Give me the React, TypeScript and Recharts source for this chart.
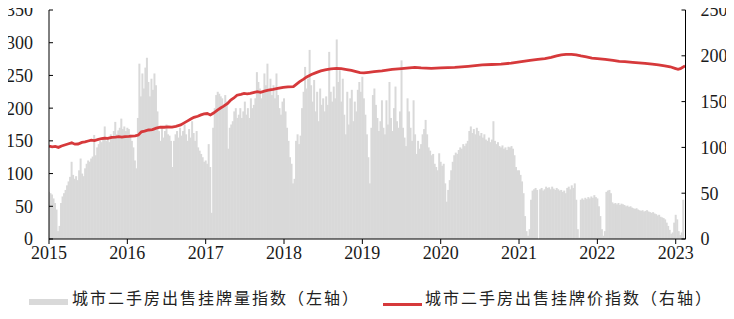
import React from 'react';
import { ComposedChart, Bar, Line, XAxis, YAxis } from 'recharts';

// Weekly listing-volume index (left axis), one array per year
const listing2015 = [72,70,68,62,55,45,12,20,55,65,70,75,82,88,95,118,98,92,96,90,105,123,100,96,108,115,120,118,123,126,159,128,140,145,150,148,152,172,150,155,148,160,156,165,179,160,166,170,184,168,172,165];
const listing2016 = [170,168,160,150,140,120,108,185,268,218,253,230,262,277,240,218,245,228,253,235,195,165,150,172,155,165,175,160,158,150,110,150,160,165,155,170,158,165,175,160,150,168,155,180,162,150,165,140,135,130,125,118];
const listing2017 = [120,115,145,110,40,170,200,220,225,222,218,215,205,220,210,138,170,175,180,195,200,185,190,200,185,195,210,190,200,185,215,200,205,215,255,240,230,215,225,253,235,268,228,245,220,235,215,253,220,200,190,210];
const listing2018 = [215,195,170,150,125,115,85,92,150,160,145,158,200,225,263,230,245,289,235,210,243,195,225,180,230,205,215,195,218,205,286,225,210,233,215,305,240,258,210,245,190,160,225,175,215,228,180,210,195,228,240,225];
const listing2019 = [248,215,190,160,125,85,170,220,230,205,185,165,180,212,170,160,212,175,240,185,165,200,233,180,170,195,273,170,155,142,215,195,170,150,212,160,130,150,138,145,160,168,182,160,140,135,128,130,115,110,105,131];
const listing2020 = [118,112,115,85,57,75,90,105,118,128,132,130,136,140,138,145,142,146,150,165,172,162,168,160,170,165,158,162,155,160,152,150,155,148,152,180,150,145,148,142,140,143,138,140,136,141,140,142,138,128,110,105];
const listing2021 = [105,98,88,70,35,12,5,15,60,74,76,78,75,0,76,78,74,76,80,78,79,76,80,77,75,78,76,74,75,72,74,70,78,80,76,82,78,85,60,15,2,60,62,60,63,61,64,62,65,63,67,64];
const listing2022 = [62,50,35,15,5,12,72,74,75,70,56,54,55,53,55,52,54,53,52,50,51,49,50,48,47,46,47,45,44,43,44,42,43,44,42,41,40,41,39,38,36,37,34,33,32,30,25,20,14,8,10,25];
const listing2023 = [37,30,12,6,10,60];

const listingYears = [2015, 2016, 2017, 2018, 2019, 2020, 2021, 2022, 2023];
const listingByYear = [listing2015, listing2016, listing2017, listing2018, listing2019, listing2020, listing2021, listing2022, listing2023];

// Listing price index (right axis)
const priceDates = [
  2015.00, 2015.04, 2015.08, 2015.12, 2015.16, 2015.2, 2015.25, 2015.29, 2015.33, 2015.37, 2015.42, 2015.46, 2015.5, 2015.54, 2015.58, 2015.63, 2015.67, 2015.71, 2015.75, 2015.8, 2015.85, 2015.89, 2015.93, 2015.97,
  2016.02, 2016.06, 2016.1, 2016.14, 2016.18, 2016.22, 2016.27, 2016.32, 2016.37, 2016.42, 2016.47, 2016.52, 2016.57, 2016.62, 2016.68, 2016.72, 2016.77, 2016.81, 2016.85, 2016.9, 2016.94, 2016.98,
  2017.02, 2017.06, 2017.1, 2017.15, 2017.19, 2017.23, 2017.28, 2017.32, 2017.36, 2017.4, 2017.45, 2017.49, 2017.53, 2017.57, 2017.62, 2017.66, 2017.7, 2017.75, 2017.8, 2017.86, 2017.92, 2017.99,
  2018.05, 2018.12, 2018.16, 2018.2, 2018.25, 2018.29, 2018.35, 2018.41, 2018.47, 2018.54, 2018.6, 2018.67, 2018.73, 2018.8, 2018.86, 2018.92, 2018.97,
  2019.02, 2019.08, 2019.15, 2019.25, 2019.38, 2019.5, 2019.6, 2019.67, 2019.75, 2019.88,
  2020.0, 2020.18, 2020.35, 2020.53, 2020.65, 2020.77, 2020.9,
  2021.03, 2021.14, 2021.24, 2021.33, 2021.41, 2021.48, 2021.54, 2021.6, 2021.67, 2021.73, 2021.79, 2021.86, 2021.93,
  2022.0, 2022.1, 2022.2, 2022.28, 2022.35, 2022.45, 2022.53, 2022.61, 2022.7, 2022.78, 2022.86, 2022.93, 2022.99,
  2023.03, 2023.06, 2023.09, 2023.12,
];
const priceValues = [
  101.5, 100.5, 101, 100, 101.5, 102.6, 104, 105, 103.5, 103.7, 105.5, 106, 107, 108, 107.5, 108.8, 109.5, 110, 109.8, 111, 111.3, 111.7, 111.2, 111.7,
  112, 112.4, 112.6, 113.5, 117, 117.8, 119, 119.5, 121, 122, 122, 122.3, 122.2, 123, 124.5, 126.5, 129, 131, 132.8, 134, 135.5, 136.5,
  137, 135.4, 137.5, 140.8, 143, 145, 148, 151.7, 154, 157, 158, 159, 158.5, 159, 160, 160.8, 160.2, 161.5, 162.5, 163.4, 164.5, 165.6,
  166, 166.3, 169, 171.8, 174.5, 177, 179.5, 181.6, 183.5, 185, 185.8, 186.3, 186, 185, 184, 182.7, 181.6,
  181.3, 182, 182.7, 183.5, 185.2, 186, 186.8, 187.4, 186.8, 186.3,
  186.8, 187.4, 188.5, 190, 190.5, 191, 192,
  193.6, 195, 196, 197, 198.3, 199.8, 201, 201.5, 201.6, 201, 199.8, 198.8, 197.5,
  197, 196, 195, 194, 193.6, 192.8, 192.3, 191.8, 190.8, 190, 189, 188, 186.3,
  185.2, 186, 187.5, 189,
];

const yearTicks = [2015, 2016, 2017, 2018, 2019, 2020, 2021, 2022, 2023];
const leftTicks = [0, 50, 100, 150, 200, 250, 300, 350];
const rightTicks = [0, 50, 100, 150, 200, 250];
const legendLabels = ['城市二手房出售挂牌量指数（左轴）', '城市二手房出售挂牌价指数（右轴）'];

const barData = listingByYear.flatMap((arr, i) =>
  arr.map((v, w) => ({ x: listingYears[i] + w / 52, listing: v }))
);
const priceData = priceDates.map((d, i) => ({ x: d, price: priceValues[i] }));

const GREY = '#d9d9d9';
const RED = '#d6393b';
const SERIF = '"Liberation Serif", "Times New Roman", serif';

const makeTick = (anchor: 'start' | 'middle' | 'end', dy: string) => (props: any) => {
  const { x, y, payload } = props;
  return (
    <text
      x={x}
      y={y}
      dy={dy}
      textAnchor={anchor}
      fill="#1a1a1a"
      style={{ fontFamily: SERIF, fontSize: 18 }}
    >
      {payload.value}
    </text>
  );
};
const BottomTick = makeTick('middle', '0.66em');
const LeftTick = makeTick('end', '0.355em');
const RightTick = makeTick('start', '0.355em');

const ListingBar = (props: any) => {
  const { x, y, width, height } = props;
  if (height == null || height <= 0) return null;
  const cx = x + (width || 0) / 2;
  return <rect x={cx - 1} y={y} width={2} height={height} fill={GREY} />;
};

const legendText: React.CSSProperties = {
  position: 'absolute',
  top: 287,
  fontFamily: '"Noto Sans CJK SC", sans-serif',
  fontSize: 16,
  lineHeight: '20px',
  letterSpacing: '2px',
  whiteSpace: 'nowrap',
  color: '#222',
};

export default function App() {
  return (
    <div style={{ margin: -8, width: 734, height: 319, position: 'relative', background: '#fff', overflow: 'hidden' }}>
      <ComposedChart
        width={734}
        height={319}
        data={barData}
        margin={{ top: 10, right: 0, bottom: 50, left: 0 }}
      >
        <XAxis
          dataKey="x"
          type="number"
          domain={[2015, 2023.125]}
          allowDataOverflow
          ticks={yearTicks}
          interval={0}
          height={30}
          tickSize={5}
          tickMargin={3}
          tick={BottomTick}
          axisLine={{ stroke: '#000', strokeWidth: 1 }}
          tickLine={{ stroke: '#000', strokeWidth: 1 }}
        />
        <YAxis
          yAxisId="left"
          orientation="left"
          domain={[0, 350]}
          ticks={leftTicks}
          interval={0}
          width={49}
          tickSize={-4}
          tickMargin={20}
          tick={LeftTick}
          axisLine={{ stroke: '#000', strokeWidth: 1 }}
          tickLine={{ stroke: '#000', strokeWidth: 1 }}
        />
        <YAxis
          yAxisId="right"
          orientation="right"
          domain={[0, 250]}
          ticks={rightTicks}
          interval={0}
          width={48.5}
          tickSize={-4}
          tickMargin={19}
          tick={RightTick}
          axisLine={{ stroke: '#000', strokeWidth: 1 }}
          tickLine={{ stroke: '#000', strokeWidth: 1 }}
        />
        <Bar
          yAxisId="left"
          dataKey="listing"
          fill={GREY}
          barSize={2}
          shape={ListingBar}
          isAnimationActive={false}
        />
        <Line
          yAxisId="right"
          data={priceData}
          dataKey="price"
          type="linear"
          stroke={RED}
          strokeWidth={2.8}
          dot={false}
          activeDot={false}
          isAnimationActive={false}
        />
      </ComposedChart>
      <div style={{ position: 'absolute', left: 29, top: 299, width: 39, height: 6, background: GREY }} />
      <span style={{ ...legendText, left: 72 }}>{legendLabels[0]}</span>
      <div style={{ position: 'absolute', left: 383, top: 303, width: 39, height: 3, background: RED }} />
      <span style={{ ...legendText, left: 425 }}>{legendLabels[1]}</span>
    </div>
  );
}
